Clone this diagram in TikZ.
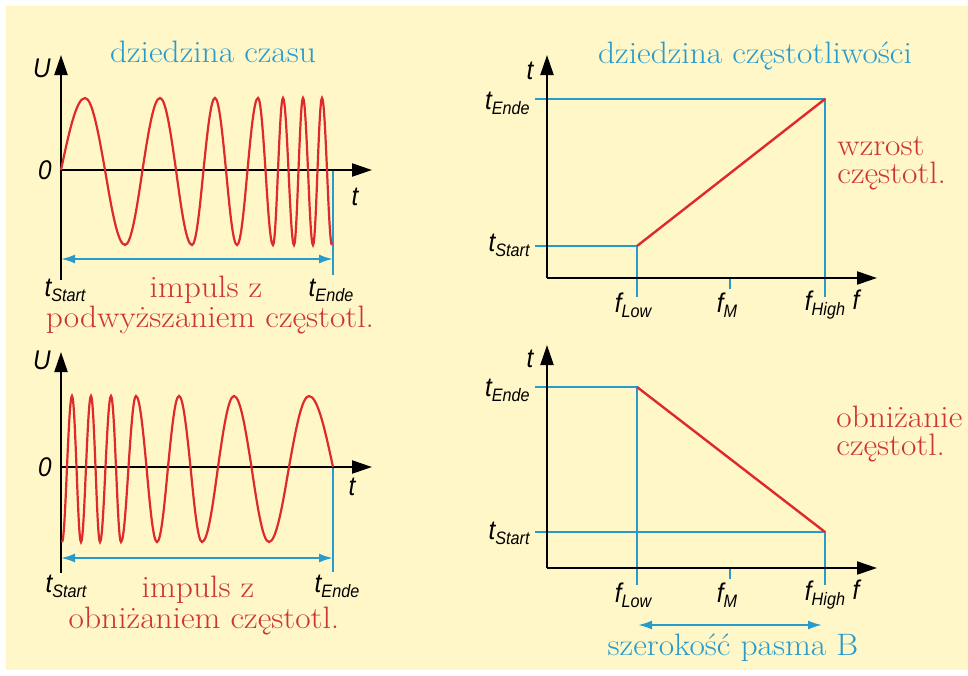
\documentclass[tikz,border=0pt]{standalone}
\usepackage{fontspec}
\usepackage{xcolor}
\usetikzlibrary{arrows.meta}
\setmainfont{Latin Modern Roman}[FakeStretch=1.08]
\newfontfamily\axfont[FakeStretch=0.9]{Liberation Sans}
\definecolor{bgyel}{RGB}{255,247,200}
\definecolor{wred}{RGB}{222,42,42}
\definecolor{tred}{RGB}{205,52,52}
\definecolor{lblue}{RGB}{40,155,205}
\newcommand{\sublbl}[2]{#1\raisebox{-2.5pt}{\fontsize{9}{9}\selectfont #2}}

\begin{document}
\begin{tikzpicture}[x=0.5pt,y=-0.5pt,
    axis/.style={line width=1.1pt,-{Triangle[length=10pt,width=6.5pt]}},
    wave/.style={wred,line width=1.1pt},
    guide/.style={lblue,line width=0.8pt},
    span/.style={lblue,line width=1pt,{Latex[length=7pt,width=4.5pt]}-{Latex[length=7pt,width=4.5pt]}},
    lbl/.style={font=\axfont\itshape\fontsize{13.5}{13.5}\selectfont,inner sep=0pt},
    rtxt/.style={tred,font=\fontsize{15.5}{17}\selectfont,inner sep=0pt,anchor=base},
    btxt/.style={lblue,font=\fontsize{15.5}{17}\selectfont,inner sep=0pt,anchor=base}]
  \useasboundingbox (0,0) rectangle (968,675);
  \fill[white] (0,0) rectangle (968,675); \fill[bgyel] (6,6) rectangle (968,670);
  \coordinate (o1) at (61,170); \coordinate (o2) at (61,467);
  \coordinate (e1) at (333,170); \coordinate (e2) at (333,467);
  \draw[guide] (e1) -- (333,275); \draw[guide] (e2) -- (333,572);
  \draw[span] (61,259) -- (333,259); \draw[span] (61,558) -- (333,558);
  \draw[axis] (61,280) -- (61,55); \draw[axis] (o1) -- (372,170);
  \draw[axis] (61,573) -- (61,352); \draw[axis] (o2) -- (372,467);
  \begin{scope}[shift={(o1)}]
    \draw[wave] (0,0) \foreach \p/\za/\q/\zb in {24/44/64/81.5,99/115/131/142.5,
      154/165/176/186.5,197/204.5/212/217,222/227.5/233/237.5,242/247/252/256.5}
      { sin (\p,-72) cos (\za,0) sin (\q,75) cos (\zb,0) }
      sin (261,-72) cos (266,0) sin (271,75);
  \end{scope}
  \begin{scope}[shift={(e2)},xscale=-1]
    \draw[wave] (0,0) \foreach \p/\za/\q/\zb in {24/44/64/81.5,99/115/131/142.5,
      154/165/176/186.5,197/204.5/212/217,222/227.5/233/237.5,242/247/252/256.5}
      { sin (\p,-71) cos (\za,0) sin (\q,75) cos (\zb,0) }
      sin (261,-71) cos (266,0) sin (271,75);
  \end{scope}
  \node[lbl] (u1) at (42,68) {U}; \node[lbl] (z1) at (45,170) {0};
  \node[lbl] (t1) at (355,197) {t}; \node[lbl] (u2) at (42,360) {U};
  \node[lbl] (z2) at (45,467) {0}; \node[lbl] (t2) at (352,487) {t};
  \node[lbl,anchor=base] (ts1) at (65,296) {\sublbl{t}{Start}};
  \node[lbl,anchor=base] (te1) at (331,296) {\sublbl{t}{Ende}};
  \node[lbl,anchor=base] (ts2) at (66,592) {\sublbl{t}{Start}};
  \node[lbl,anchor=base] (te2) at (337,592) {\sublbl{t}{Ende}};
  \node[btxt] (tdom) at (213,62) {dziedzina czasu};
  \node[rtxt] (imp1) at (206,297) {impuls z};
  \node[rtxt] (imp1b) at (210,327) {podwyższaniem częstotl.};
  \node[rtxt] (imp2) at (198,597) {impuls z};
  \node[rtxt] (imp2b) at (204,628) {obniżaniem częstotl.};
  \coordinate (o3) at (547,278); \coordinate (o4) at (547,568);
  \coordinate (lo3) at (637,246); \coordinate (hi3) at (825,99);
  \coordinate (lo4) at (637,387); \coordinate (hi4) at (825,532);
  \draw[guide] (535,99) -| (825,297); \draw[guide] (535,246) -| (637,297);
  \draw[guide] (730,278) -- (730,289);
  \draw[guide] (535,387) -| (637,585); \draw[guide] (535,532) -| (825,585);
  \draw[guide] (730,568) -- (730,579);
  \draw[axis] (o3) -- (547,55); \draw[axis] (o3) -- (877,278);
  \draw[axis] (o4) -- (547,345); \draw[axis] (o4) -- (877,568);
  \draw[wave,line width=1.2pt] (lo3) -- (hi3); \draw[wave,line width=1.2pt] (lo4) -- (hi4);
  \draw[span] (638,625) -- (822,625);
  \node[lbl] (t3) at (530,71) {t}; \node[lbl] (t4) at (530,359) {t};
  \node[lbl] (f3) at (856,300) {f}; \node[lbl] (f4) at (856,590) {f};
  \foreach \y/\n in {0/3,290/4} {
    \node[lbl] (fl\n) at (633,305+\y) {\sublbl{f}{Low}};
    \node[lbl] (fm\n) at (727,305+\y) {\sublbl{f}{M}};
    \node[lbl] (fh\n) at (825,305+\y) {\sublbl{f}{High}}; }
  \node[lbl,anchor=east] (te3) at (530,103) {\sublbl{t}{Ende}};
  \node[lbl,anchor=east] (ts3) at (530,245) {\sublbl{t}{Start}};
  \node[lbl,anchor=east] (te4) at (530,390) {\sublbl{t}{Ende}};
  \node[lbl,anchor=east] (ts4) at (530,533) {\sublbl{t}{Start}};
  \node[btxt] (fdom) at (755,63) {dziedzina częstotliwości};
  \node[rtxt,anchor=base west] (rise) at (837,155) {wzrost};
  \node[rtxt,anchor=base west] (rise2) at (837,183) {częstotl.};
  \node[rtxt,anchor=base west] (fall) at (836,427) {obniżanie};
  \node[rtxt,anchor=base west] (fall2) at (836,455) {częstotl.};
  \node[btxt] (bw) at (733,655) {szerokość pasma B};
\end{tikzpicture}
\end{document}
